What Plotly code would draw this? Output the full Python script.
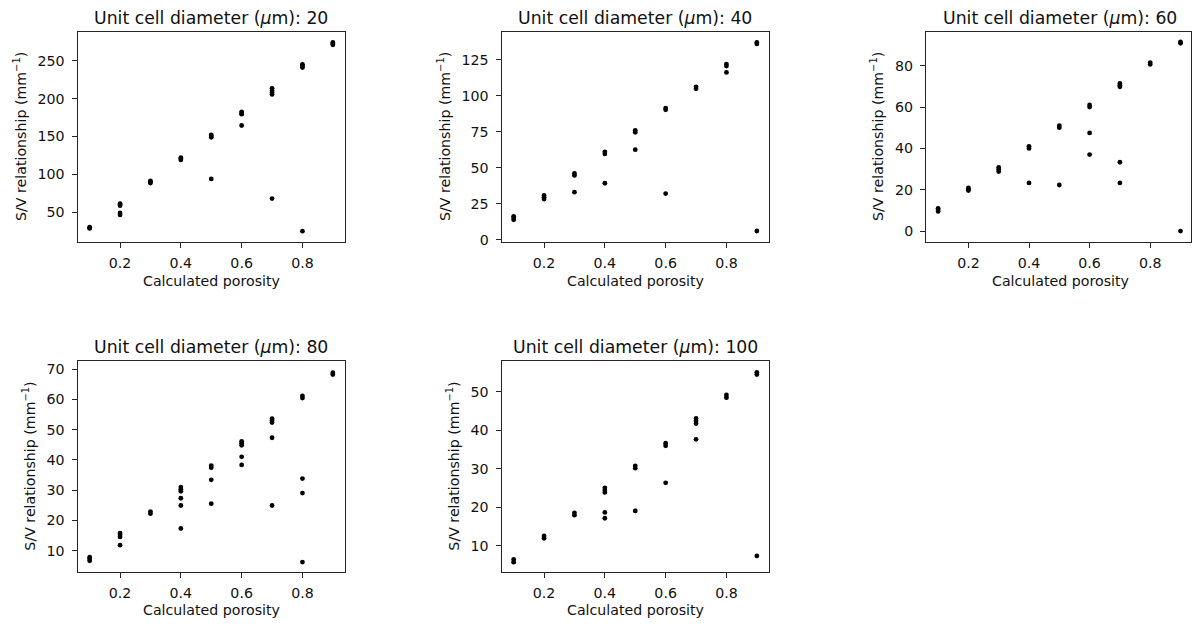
import plotly.graph_objects as go

# ---------------- data ----------------
diameters = [20, 40, 60, 80, 100]

porosity_d20 = [0.1, 0.1, 0.1,
                0.2, 0.2, 0.2, 0.2, 0.2,
                0.3, 0.3, 0.3,
                0.4, 0.4, 0.4,
                0.5, 0.5, 0.5, 0.5,
                0.6, 0.6, 0.6, 0.6,
                0.7, 0.7, 0.7, 0.7, 0.7,
                0.8, 0.8, 0.8, 0.8,
                0.9, 0.9, 0.9]
sv_d20 = [28.7, 29.5, 30.3,
          58.7, 60.0, 61.3, 49.0, 46.5,
          88.5, 90.0, 91.5,
          119.0, 120.5, 122.0,
          149.0, 150.5, 152.0, 94.0,
          179.5, 181.0, 182.5, 164.5,
          205.5, 208.0, 210.5, 213.5, 68.0,
          241.0, 243.0, 245.0, 25.0,
          271.0, 272.5, 274.0]

porosity_d40 = [0.1, 0.1, 0.1,
                0.2, 0.2, 0.2,
                0.3, 0.3, 0.3,
                0.4, 0.4, 0.4,
                0.5, 0.5, 0.5,
                0.6, 0.6, 0.6,
                0.7, 0.7,
                0.8, 0.8, 0.8,
                0.9, 0.9, 0.9]
sv_d40 = [13.8, 15.0, 16.2,
          28.2, 29.5, 30.8,
          44.6, 46.0, 33.0,
          59.6, 61.0, 39.2,
          74.6, 76.0, 62.5,
          90.2, 91.4, 32.0,
          104.8, 106.2,
          120.6, 122.0, 116.2,
          136.0, 137.0, 6.0]

porosity_d60 = [0.1, 0.1, 0.1,
                0.2, 0.2, 0.2,
                0.3, 0.3, 0.3,
                0.4, 0.4, 0.4,
                0.5, 0.5, 0.5,
                0.6, 0.6, 0.6, 0.6,
                0.7, 0.7, 0.7, 0.7, 0.7,
                0.8, 0.8,
                0.9, 0.9, 0.9]
sv_d60 = [9.5, 10.3, 11.0,
          19.6, 20.3, 20.9,
          28.8, 29.8, 30.8,
          40.0, 41.0, 23.3,
          50.0, 51.0, 22.3,
          60.0, 61.0, 47.5, 37.0,
          69.8, 70.6, 71.4, 33.3, 23.3,
          80.6, 81.5,
          90.8, 91.5, 0.0]

porosity_d80 = [0.1, 0.1, 0.1,
                0.2, 0.2, 0.2, 0.2,
                0.3, 0.3,
                0.4, 0.4, 0.4, 0.4, 0.4, 0.4,
                0.5, 0.5, 0.5, 0.5,
                0.6, 0.6, 0.6, 0.6, 0.6,
                0.7, 0.7, 0.7, 0.7, 0.7,
                0.8, 0.8, 0.8, 0.8, 0.8,
                0.9, 0.9]
sv_d80 = [6.6, 7.2, 7.8,
          14.5, 15.2, 15.8, 11.8,
          22.2, 22.9,
          29.6, 30.3, 31.0, 27.3, 24.9, 17.3,
          37.4, 38.1, 33.4, 25.5,
          44.8, 45.5, 46.1, 41.0, 38.3,
          52.3, 53.0, 53.6, 47.3, 24.9,
          60.4, 61.1, 33.8, 29.0, 6.2,
          68.2, 68.8]

porosity_d100 = [0.1, 0.1,
                 0.2, 0.2,
                 0.3, 0.3,
                 0.4, 0.4, 0.4, 0.4, 0.4,
                 0.5, 0.5, 0.5,
                 0.6, 0.6, 0.6,
                 0.7, 0.7, 0.7, 0.7,
                 0.8, 0.8,
                 0.9, 0.9, 0.9]
sv_d100 = [5.7, 6.4,
           11.9, 12.5,
           17.9, 18.5,
           23.8, 24.4, 25.0, 18.6, 17.1,
           30.1, 30.7, 19.0,
           35.9, 36.6, 26.3,
           41.7, 42.4, 43.0, 37.6,
           48.4, 49.1,
           54.4, 55.0, 7.3]

x_tick_values = [0.2, 0.4, 0.6, 0.8]
x_tick_labels = ["0.2", "0.4", "0.6", "0.8"]

series = [(porosity_d20, sv_d20), (porosity_d40, sv_d40), (porosity_d60, sv_d60),
          (porosity_d80, sv_d80), (porosity_d100, sv_d100)]

# ---------------- layout configuration ----------------
W, H = 1192, 625
# panel frames in pixels: (left, right, top, bottom)
frames = [(77.5, 345, 32.3, 244.3), (501.5, 769, 32.3, 244.3), (926, 1190.5, 32.3, 244.3),
          (77.5, 345, 365.0, 577.3), (501.5, 769, 365.0, 577.3)]
x_ranges = [[0.06, 0.94], [0.06, 0.94], [0.06, 0.933], [0.06, 0.94], [0.06, 0.94]]
y_ranges = [[10.8, 287.9], [-1.6, 144.3], [-5.25, 96.3], [3.0, 72.5], [3.2, 57.8]]
y_dticks = [50, 25, 20, 10, 10]
ylabel_x = [20, 444, 877, 29, 453]
title_cx = [211, 635, 1060, 211, 635]

FONT = "DejaVu Sans"
TICK_SIZE = 14.2
TITLE_SIZE = 17.3
LINE_COLOR = "#262626"

fig = go.Figure()
annotations = []
for i, ((px, sv), d) in enumerate(zip(series, diameters)):
    n = "" if i == 0 else str(i + 1)
    fig.add_trace(go.Scatter(
        x=px, y=sv, mode="markers", xaxis="x" + n, yaxis="y" + n,
        marker=dict(color="black", size=4.8, line=dict(width=0)),
        showlegend=False, hoverinfo="x+y"))
    l, r, t, b = frames[i]
    axis_common = dict(showline=True, mirror=True, linecolor=LINE_COLOR, linewidth=1,
                       ticks="outside", ticklen=5, tickwidth=1, tickcolor=LINE_COLOR,
                       showgrid=False, zeroline=False,
                       tickfont=dict(family=FONT, size=TICK_SIZE, color="#111"))
    fig.update_layout(**{
        "xaxis" + n: dict(domain=[l / W, r / W], range=x_ranges[i], anchor="y" + n,
                          tickvals=x_tick_values, ticktext=x_tick_labels,
                          ticklabelstandoff=3, **axis_common),
        "yaxis" + n: dict(domain=[1 - b / H, 1 - t / H], range=y_ranges[i], anchor="x" + n,
                          dtick=y_dticks[i], tick0=0, ticklabelstandoff=4, **axis_common),
    })
    cx = title_cx[i]
    annotations.append(dict(
        text=f"Unit cell diameter (<i>\u03bc</i>m): {d}", xref="paper", yref="paper",
        x=cx / W, y=1 - (t - 14.5) / H, xanchor="center", yanchor="middle",
        showarrow=False, font=dict(family=FONT, size=TITLE_SIZE, color="#111")))
    annotations.append(dict(
        text="Calculated porosity", xref="paper", yref="paper",
        x=cx / W, y=1 - (b + 39.0) / H, xanchor="center", yanchor="middle",
        showarrow=False, font=dict(family=FONT, size=TICK_SIZE, color="#111")))
    annotations.append(dict(
        text="S/V relationship (mm<sup>\u22121</sup>)", xref="paper", yref="paper",
        x=ylabel_x[i] / W, y=1 - ((t + b) / 2) / H, xanchor="center", yanchor="middle",
        textangle=-90, showarrow=False,
        font=dict(family=FONT, size=TICK_SIZE, color="#111")))

fig.update_layout(width=W, height=H, margin=dict(l=0, r=0, t=0, b=0),
                  paper_bgcolor="white", plot_bgcolor="white",
                  annotations=annotations, showlegend=False)

fig.write_html("out.html")
